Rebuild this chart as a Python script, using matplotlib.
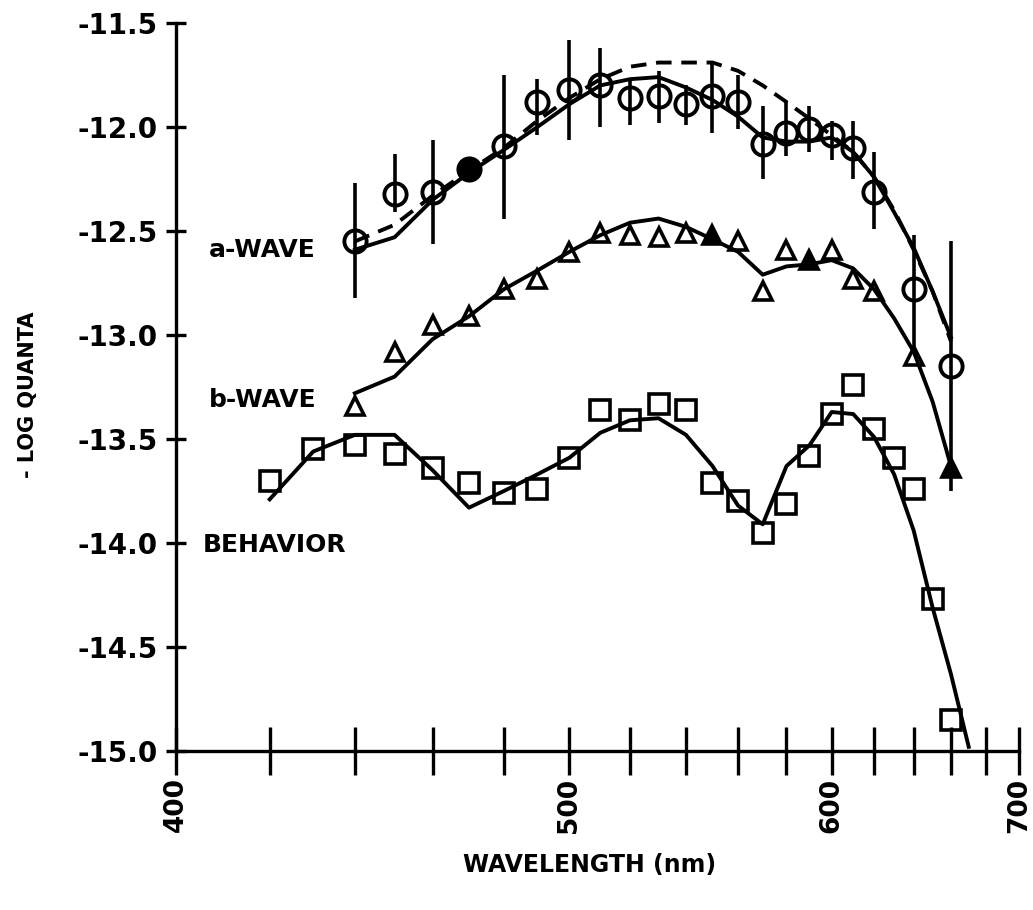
#Imports----------------------------------------------------------------------------------------------
import numpy as np
import matplotlib
matplotlib.use("Agg")
from matplotlib import pyplot as plt
from matplotlib.ticker import FixedLocator, FuncFormatter

#Data--------------------------------------------------------------------------------------------------
#Behavior thresholds (squares) and the fitted curve
beh_wl = [420, 430, 440, 450, 460, 470, 480, 490, 500, 510, 520, 530, 540,
          550, 560, 570, 580, 590, 600, 610, 620, 630, 640, 650, 660]
beh_pts = [-13.70, -13.55, -13.53, -13.57, -13.64, -13.71, -13.76, -13.74, -13.59, -13.36, -13.41, -13.33, -13.36,
           -13.71, -13.80, -13.95, -13.81, -13.58, -13.38, -13.24, -13.45, -13.59, -13.74, -14.27, -14.85]
beh_fit_wl = [420, 430, 440, 450, 460, 470, 480, 490, 500, 510, 520, 530, 540,
              550, 560, 570, 580, 590, 600, 610, 620, 630, 640, 650, 660, 670]
beh_fit = [-13.79, -13.56, -13.48, -13.48, -13.65, -13.83, -13.75, -13.67, -13.59, -13.47, -13.41, -13.40, -13.48,
           -13.63, -13.82, -13.91, -13.63, -13.53, -13.37, -13.38, -13.49, -13.67, -13.94, -14.31, -14.63, -14.98]

#b-wave (triangles), filled ones at 550, 590, 660
bw_wl = [440, 450, 460, 470, 480, 490, 500, 510, 520, 530, 540, 550, 560, 570, 580, 590, 600, 610, 620, 640, 660]
bw_pts = [-13.34, -13.08, -12.95, -12.91, -12.78, -12.73, -12.60, -12.51, -12.52, -12.53, -12.51, -12.52, -12.55,
          -12.79, -12.59, -12.64, -12.59, -12.73, -12.79, -13.10, -13.64]
bw_filled = [550, 590, 660]
fit_wl = [440, 450, 460, 470, 480, 490, 500, 510, 520, 530, 540, 550, 560, 570, 580, 590, 600, 610, 620, 630, 640, 650, 660]
bw_fit = [-13.28, -13.20, -13.02, -12.91, -12.78, -12.69, -12.60, -12.52, -12.46, -12.44, -12.48, -12.54, -12.60,
          -12.71, -12.67, -12.66, -12.64, -12.68, -12.78, -12.92, -13.08, -13.32, -13.63]

#a-wave (circles with error bars), filled one at 470
aw_wl = [440, 450, 460, 470, 480, 490, 500, 510, 520, 530, 540, 550, 560, 570, 580, 590, 600, 610, 620, 640, 660]
aw_pts = [-12.55, -12.32, -12.31, -12.20, -12.09, -11.88, -11.82, -11.80, -11.86, -11.85, -11.89, -11.85, -11.88,
          -12.08, -12.03, -12.01, -12.04, -12.10, -12.31, -12.78, -13.15]
aw_top = [-12.27, -12.13, -12.06, -12.17, -11.75, -11.77, -11.58, -11.62, -11.77, -11.73, -11.80, -11.69, -11.75,
          -11.90, -11.88, -11.90, -11.97, -11.97, -12.12, -12.52, -12.55]
aw_bot = [-12.82, -12.41, -12.56, -12.23, -12.44, -12.04, -12.06, -12.00, -11.99, -11.98, -11.99, -12.03, -12.01,
          -12.25, -12.14, -12.12, -12.16, -12.25, -12.49, -13.08, -13.75]
aw_filled = [470]
aw_fit = [-12.59, -12.53, -12.35, -12.22, -12.11, -12.00, -11.89, -11.80, -11.77, -11.76, -11.81, -11.87, -11.95,
          -12.05, -12.07, -12.07, -12.05, -12.12, -12.24, -12.41, -12.58, -12.79, -13.01]
aw_dash = [-12.55, -12.47, -12.33, -12.21, -12.10, -11.97, -11.86, -11.77, -11.71, -11.69, -11.69, -11.69, -11.73,
           -11.80, -11.88, -11.96, -12.04, -12.12, -12.24, -12.40, -12.59, -12.79, -13.03]

x_ticks = list(range(400, 701, 20))
x_labels = [400, 500, 600, 700]
y_ticks = [-15.0, -14.5, -14.0, -13.5, -13.0, -12.5, -12.0, -11.5]

#Reciprocal (wavenumber) axis------------------------------------------------------------------------
def recip(x):
    x = np.asarray(x, dtype=float)
    with np.errstate(divide='ignore', invalid='ignore'):
        return np.where(x > 0, -1.0 / np.where(x > 0, x, 1.0), -1e9)

def recip_inv(y):
    y = np.asarray(y, dtype=float)
    with np.errstate(divide='ignore', invalid='ignore'):
        return np.where(y < 0, -1.0 / np.where(y < 0, y, -1.0), 1e9)

#Figure--------------------------------------------------------------------------------------------
plt.rcParams['font.family'] = ['DejaVu Sans']
plt.rcParams['font.weight'] = 'bold'
fig = plt.figure(figsize=(10.33, 9.10), dpi=100)
ax = fig.add_axes([0.1704, 0.1747, 0.8161, 0.8000])

lw = 2.8
ink = 'black'

#behavior
ax.plot(beh_fit_wl, beh_fit, color=ink, lw=lw, zorder=2)
ax.plot(beh_wl, beh_pts, ls='none', marker='s', ms=15, mfc='none', mec=ink, mew=2.6, zorder=3)

#b-wave
ax.plot(fit_wl, bw_fit, color=ink, lw=lw, zorder=2)
bw_open = [(w, v) for w, v in zip(bw_wl, bw_pts) if w not in bw_filled]
bw_full = [(w, v) for w, v in zip(bw_wl, bw_pts) if w in bw_filled]
ax.plot([p[0] for p in bw_open], [p[1] for p in bw_open], ls='none', marker='^', ms=13,
        mfc='none', mec=ink, mew=2.6, zorder=3)
ax.plot([p[0] for p in bw_full], [p[1] for p in bw_full], ls='none', marker='^', ms=13,
        mfc=ink, mec=ink, mew=2.6, zorder=3)

#a-wave
ax.plot(fit_wl, aw_fit, color=ink, lw=lw, zorder=2)
ax.plot(fit_wl, aw_dash, color=ink, lw=lw, dashes=(4, 2.5), zorder=2)
ax.vlines(aw_wl, aw_bot, aw_top, color=ink, lw=2.6, zorder=3)
aw_open = [(w, v) for w, v in zip(aw_wl, aw_pts) if w not in aw_filled]
aw_full = [(w, v) for w, v in zip(aw_wl, aw_pts) if w in aw_filled]
ax.plot([p[0] for p in aw_open], [p[1] for p in aw_open], ls='none', marker='o', ms=16,
        mfc='none', mec=ink, mew=2.8, zorder=4)
ax.plot([p[0] for p in aw_full], [p[1] for p in aw_full], ls='none', marker='o', ms=16,
        mfc=ink, mec=ink, mew=2.8, zorder=4)

#Axes styling---------------------------------------------------------------------------------------
ax.set_xlim(400, 700)
ax.set_ylim(-15.0, -11.5)
ax.set_xscale('function', functions=(recip, recip_inv))
ax.set_xlim(400, 700)

#curve labels
ax.text(406.8, -12.59, 'a-WAVE', fontsize=18, fontweight='bold', ha='left', va='center')
ax.text(406.8, -13.31, 'b-WAVE', fontsize=18, fontweight='bold', ha='left', va='center')
ax.text(405.5, -14.01, 'BEHAVIOR', fontsize=18, fontweight='bold', ha='left', va='center')

for s in ['top', 'right']:
    ax.spines[s].set_visible(False)
for s in ['left', 'bottom']:
    ax.spines[s].set_linewidth(2.4)

ax.xaxis.set_major_locator(FixedLocator(x_ticks))
ax.xaxis.set_minor_locator(FixedLocator([]))
ax.xaxis.set_major_formatter(FuncFormatter(lambda v, p: '%d' % round(v) if round(v) in x_labels else ''))
ax.yaxis.set_major_locator(FixedLocator(y_ticks))
ax.yaxis.set_major_formatter(FuncFormatter(lambda v, p: '%.1f' % v))

ax.tick_params(axis='x', direction='inout', length=34, width=2.4, pad=2, labelsize=19, labelrotation=90)
ax.tick_params(axis='y', direction='inout', length=14, width=2.4, pad=6, labelsize=20)
for lab in ax.get_xticklabels() + ax.get_yticklabels():
    lab.set_fontweight('bold')

fig.text(0.571, 0.0495, 'WAVELENGTH (nm)', fontsize=17, fontweight='bold', ha='center', va='center')
fig.text(0.027, 0.566, '- LOG QUANTA', fontsize=15, fontweight='bold', ha='center', va='center', rotation=90)

fig.savefig('out.png', dpi=100, facecolor='white')
